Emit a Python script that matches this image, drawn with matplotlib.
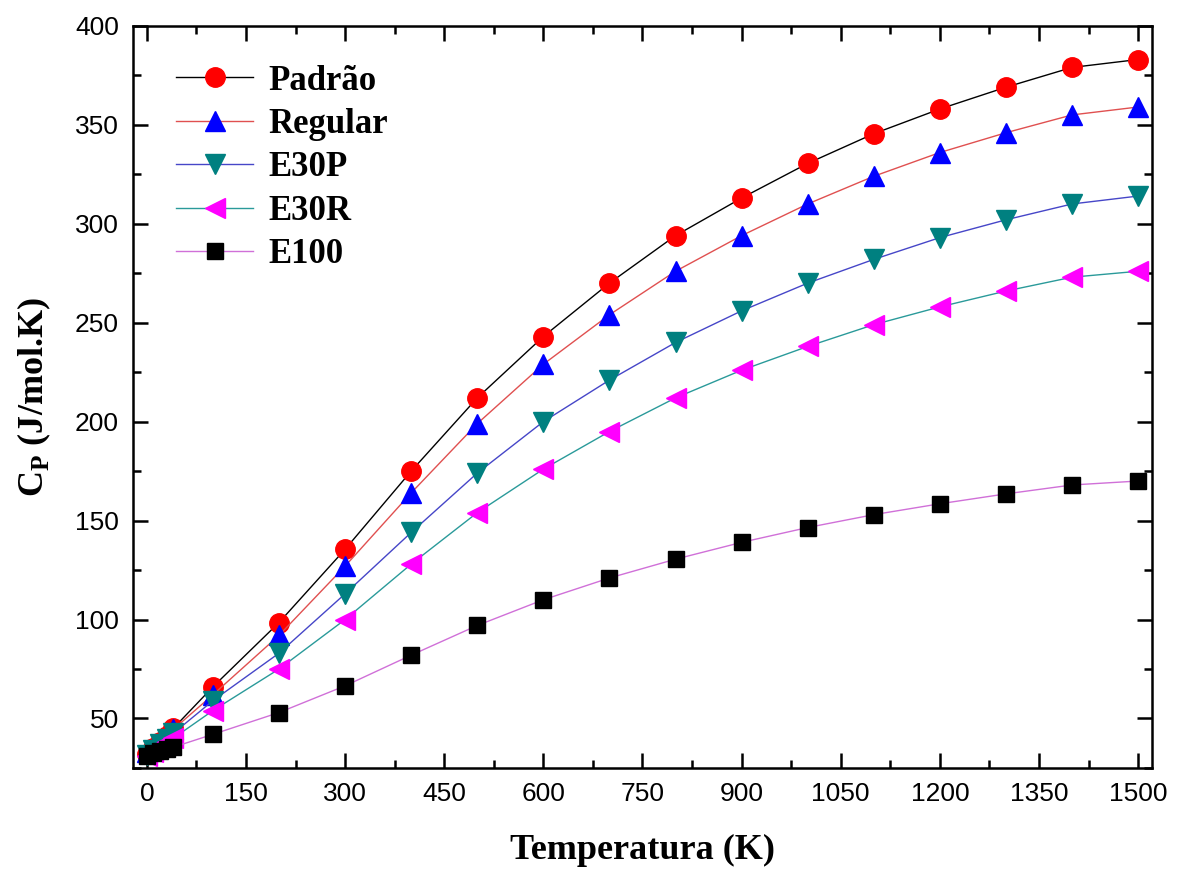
import numpy as np
import matplotlib
matplotlib.use("Agg")
import matplotlib.pyplot as plt
from matplotlib.ticker import MultipleLocator

# temperatures (K)
temp = [0, 10, 20, 30, 40, 100, 200, 300, 400, 500, 600, 700, 800,
        900, 1000, 1100, 1200, 1300, 1400, 1500]

# Cp values (J/mol.K)
padrao = [32, 35, 38, 41, 45, 66, 98.5, 135.5, 175, 212, 243, 270, 294,
          313, 330.5, 345.5, 358, 369, 379, 383]
regular = [33, 35, 38, 41, 44.5, 62, 92, 127, 164, 199, 229, 254, 276,
           294, 310, 324, 336, 346, 355, 359]
e30p = [31.5, 34, 37, 39.5, 42.5, 59, 83, 113, 144, 174, 200, 221, 240,
        256, 270, 282, 293, 302, 310, 314]
e30r = [31, 33, 36, 38, 40, 54, 75, 100, 128, 154, 176, 195, 212,
        226, 238, 249, 258, 266, 273, 276]
e100 = [31, 32.5, 33.5, 34.5, 35.5, 42, 53, 66.5, 82, 97, 110, 121, 130.5,
        139, 146.5, 153, 158.5, 163.5, 168, 170]

series = [
    ("Padrão", padrao, "black", "o", "#ff0000", 14),
    ("Regular", regular, "#e05050", "^", "#0000ff", 15),
    ("E30P", e30p, "#4646c8", "v", "#008080", 15),
    ("E30R", e30r, "#2a9a9a", "<", "#ff00ff", 15),
    ("E100", e100, "#d070d8", "s", "black", 11),
]

fig = plt.figure(figsize=(11.83, 8.71), dpi=100)
ax = fig.add_axes([0.1124, 0.1183, 0.8614, 0.852])

for name, vals, lc, mk, mc, ms in series:
    ax.plot(temp, vals, color=lc, lw=1.0, marker=mk, markersize=ms,
            markerfacecolor=mc, markeredgecolor=mc, label=name)

ax.set_xlim(-21, 1521)
ax.set_ylim(25, 400)
ax.xaxis.set_major_locator(MultipleLocator(150))
ax.xaxis.set_minor_locator(MultipleLocator(75))
ax.yaxis.set_major_locator(MultipleLocator(50))
ax.yaxis.set_minor_locator(MultipleLocator(25))

ax.tick_params(which="both", direction="in", top=True, right=True,
               width=1.8, labelsize=19, pad=10)
ax.tick_params(which="major", length=11)
ax.tick_params(which="minor", length=6)
for lab in ax.get_xticklabels() + ax.get_yticklabels():
    lab.set_family("Liberation Sans")
for sp in ax.spines.values():
    sp.set_linewidth(1.8)

ax.set_xlabel("Temperatura (K)", family="Liberation Serif", fontweight="bold",
              fontsize=26, labelpad=20)
ax.set_ylabel(r"C$_\mathregular{P}$ (J/mol.K)", family="Liberation Serif",
              fontweight="bold", fontsize=26, labelpad=16)

leg = ax.legend(loc="upper left", bbox_to_anchor=(0.012, 0.99), frameon=False,
                prop={"family": "Liberation Serif", "weight": "bold", "size": 25},
                handlelength=2.2, labelspacing=0.3, handletextpad=0.45)

fig.savefig("out.png", dpi=100)
